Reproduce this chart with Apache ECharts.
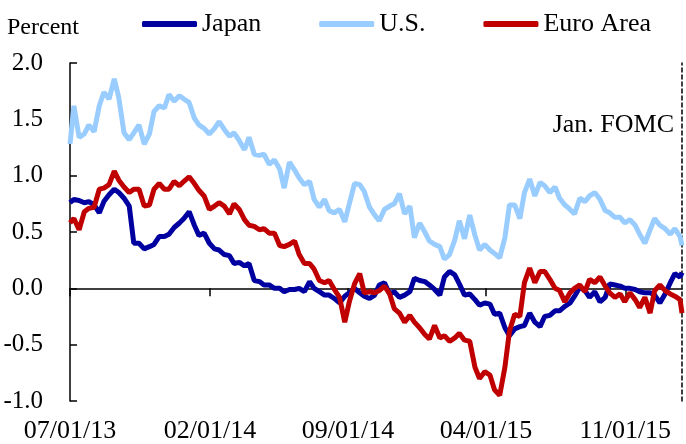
<!DOCTYPE html>
<html>
<head>
<meta charset="utf-8">
<script src="https://cdn.jsdelivr.net/npm/echarts@6/dist/echarts.min.js"></script>
<style>
  html, body { margin: 0; padding: 0; background: #fff; }
  #chart { width: 686px; height: 444px; }
</style>
</head>
<body>
<div id="chart"></div>
<script>
// observation dates (roughly weekly) up to the Jan. FOMC
const dates = [
  '2013-07-01','2013-07-07','2013-07-15','2013-07-23','2013-07-30','2013-08-07','2013-08-15','2013-08-22','2013-08-30','2013-09-07','2013-09-14','2013-09-22','2013-09-30',
  '2013-10-07','2013-10-15','2013-10-23','2013-10-31','2013-11-07','2013-11-15','2013-11-23','2013-11-30','2013-12-08','2013-12-16','2013-12-23','2013-12-31','2014-01-08',
  '2014-01-15','2014-01-23','2014-01-31','2014-02-08','2014-02-15','2014-02-23','2014-03-03','2014-03-10','2014-03-18','2014-03-26','2014-04-02','2014-04-10','2014-04-18',
  '2014-04-25','2014-05-03','2014-05-11','2014-05-19','2014-05-26','2014-06-03','2014-06-11','2014-06-18','2014-06-26','2014-07-04','2014-07-11','2014-07-19','2014-07-27',
  '2014-08-03','2014-08-11','2014-08-19','2014-08-27','2014-09-03','2014-09-11','2014-09-19','2014-09-26','2014-10-04','2014-10-12','2014-10-19','2014-10-27','2014-11-04',
  '2014-11-11','2014-11-19','2014-11-27','2014-12-05','2014-12-12','2014-12-20','2014-12-28','2015-01-04','2015-01-12','2015-01-20','2015-01-27','2015-02-04','2015-02-12',
  '2015-02-19','2015-02-27','2015-03-07','2015-03-15','2015-03-22','2015-03-30','2015-04-07','2015-04-14','2015-04-22','2015-04-30','2015-05-07','2015-05-15','2015-05-23',
  '2015-05-30','2015-06-07','2015-06-15','2015-06-23','2015-06-30','2015-07-08','2015-07-16','2015-07-23','2015-07-31','2015-08-08','2015-08-15','2015-08-23','2015-08-31',
  '2015-09-07','2015-09-15','2015-09-23','2015-10-01','2015-10-08','2015-10-16','2015-10-24','2015-10-31','2015-11-08','2015-11-16','2015-11-23','2015-12-01','2015-12-09',
  '2015-12-16','2015-12-24','2016-01-01','2016-01-09','2016-01-16','2016-01-24','2016-01-27'
]

const japan = [
  0.76,0.79,0.78,0.76,0.77,0.74,0.67,0.77,0.83,0.88,0.85,0.80,0.73,0.40,0.40,0.35,0.37,0.39,0.46,0.46,0.48,0.54,0.58,0.62,0.68,0.56,0.47,0.49,0.40,0.35,0.34,
  0.30,0.29,0.22,0.23,0.20,0.22,0.07,0.06,0.03,0.03,0.00,0.00,-0.03,-0.01,-0.01,0.00,-0.03,0.06,0.00,-0.03,-0.06,-0.06,-0.09,-0.13,-0.07,-0.04,0.00,-0.04,-0.07,-0.09,
  -0.06,0.03,0.05,-0.05,-0.03,-0.08,-0.06,-0.03,0.09,0.07,0.06,0.03,-0.01,-0.06,0.10,0.15,0.12,0.04,-0.06,-0.05,-0.10,-0.15,-0.13,-0.14,-0.23,-0.22,-0.35,-0.42,-0.36,-0.34,-0.33,
  -0.22,-0.30,-0.34,-0.25,-0.24,-0.20,-0.20,-0.16,-0.13,-0.07,0.01,-0.02,-0.08,-0.03,-0.12,-0.08,0.04,0.03,0.02,0.00,0.00,-0.01,-0.03,-0.04,-0.04,-0.06,-0.13,-0.05,0.05,0.13,0.10,
  0.14
]

const us = [
  1.28,1.62,1.34,1.37,1.45,1.39,1.62,1.74,1.68,1.86,1.69,1.38,1.32,1.38,1.45,1.28,1.37,1.57,1.62,1.60,1.72,1.66,1.71,1.68,1.65,1.51,1.45,1.42,1.37,1.42,1.48,
  1.41,1.35,1.38,1.31,1.23,1.34,1.19,1.18,1.19,1.10,1.14,1.06,0.89,1.12,1.05,0.98,0.92,0.95,0.79,0.72,0.79,0.69,0.67,0.70,0.59,0.75,0.93,0.92,0.86,0.72,
  0.65,0.60,0.70,0.73,0.75,0.84,0.66,0.73,0.45,0.58,0.50,0.42,0.39,0.37,0.26,0.30,0.43,0.60,0.44,0.65,0.47,0.34,0.39,0.34,0.31,0.27,0.45,0.74,0.74,0.62,0.85,
  0.97,0.82,0.94,0.91,0.85,0.90,0.80,0.74,0.70,0.66,0.80,0.77,0.82,0.85,0.79,0.69,0.67,0.63,0.63,0.58,0.61,0.56,0.48,0.40,0.52,0.62,0.56,0.53,0.48,0.53,0.46,
  0.38
]

const euro = [
  0.58,0.62,0.52,0.68,0.71,0.72,0.88,0.89,0.92,1.04,0.96,0.90,0.85,0.88,0.88,0.73,0.74,0.88,0.93,0.88,0.88,0.95,0.91,0.95,0.99,0.93,0.87,0.82,0.70,0.73,0.76,
  0.73,0.66,0.75,0.70,0.61,0.56,0.55,0.52,0.53,0.49,0.49,0.38,0.37,0.39,0.42,0.30,0.22,0.22,0.17,0.07,0.05,0.07,-0.01,-0.08,-0.30,-0.12,0.04,0.13,-0.04,-0.03,
  -0.04,-0.02,0.02,-0.05,-0.18,-0.22,-0.30,-0.24,-0.30,-0.35,-0.41,-0.45,-0.33,-0.44,-0.42,-0.47,-0.44,-0.40,-0.46,-0.47,-0.70,-0.80,-0.74,-0.77,-0.90,-0.95,-0.70,-0.38,-0.23,-0.25,0.05,
  0.18,0.05,0.15,0.15,0.08,0.00,-0.02,-0.12,-0.04,0.00,0.03,-0.03,0.08,0.05,0.10,0.02,-0.04,-0.08,-0.05,-0.12,-0.04,-0.10,-0.17,-0.08,-0.22,-0.02,0.03,-0.02,-0.05,-0.07,-0.10,
  -0.22
]

const xTickDates = ['2013-07-01', '2014-02-01', '2014-09-01', '2015-04-01', '2015-11-01']
const xTickLabels = ['07/01/13', '02/01/14', '09/01/14', '04/01/15', '11/01/15']
const fomcDate = '2016-01-27'

const font = "'Liberation Serif', 'Times New Roman', serif"
const toTime = (d) => echarts.number.parseDate(d).getTime()
const tickTimes = xTickDates.map(toTime)
const xMin = toTime(dates[0])
const xMax = toTime(fomcDate)
const toPairs = (vals) => dates.map((d, i) => [toTime(d), vals[i]])

const chart = echarts.init(document.getElementById('chart'))
chart.setOption({
  animation: false,
  textStyle: { fontFamily: font, color: '#000' },
  title: [
    { text: 'Percent', left: 7, top: 16, padding: 0, textStyle: { fontFamily: font, fontSize: 24, fontWeight: 'normal', color: '#000' } },
    { text: 'Jan. FOMC', right: 12, top: 112, padding: 0, textStyle: { fontFamily: font, fontSize: 26, fontWeight: 'normal', color: '#000' } }
  ],
  legend: {
    left: 142,
    top: 11,
    padding: 0,
    itemGap: 58,
    itemWidth: 55,
    itemHeight: 6,
    icon: 'roundRect',
    textStyle: { fontFamily: font, fontSize: 26, color: '#000' },
    data: ['Japan', 'U.S.', 'Euro Area']
  },
  grid: { left: 70, right: 4, top: 63, bottom: 43, containLabel: false },
  xAxis: [
    {
      type: 'value',
      min: xMin,
      max: xMax,
      position: 'bottom',
      axisLine: { show: false, onZero: false },
      axisTick: { show: false },
      splitLine: { show: false },
      axisLabel: {
        customValues: tickTimes,
        margin: 17,
        fontFamily: font,
        fontSize: 26,
        color: '#000',
        formatter: (v) => xTickLabels[tickTimes.indexOf(v)] ?? ''
      }
    },
    {
      type: 'value',
      min: xMin,
      max: xMax,
      position: 'bottom',
      axisLine: { show: true, onZero: true, lineStyle: { color: '#000', width: 1.5 } },
      axisTick: { show: true, customValues: tickTimes, length: 8, lineStyle: { color: '#000', width: 1.5 } },
      axisLabel: { show: false },
      splitLine: { show: false }
    }
  ],
  yAxis: [
    {
      type: 'value',
      min: -1,
      max: 2,
      interval: 0.5,
      axisLine: { show: true, lineStyle: { color: '#000', width: 1.5 } },
      axisTick: { show: true, inside: true, length: 7, lineStyle: { color: '#000', width: 1.5 } },
      splitLine: { show: false },
      axisLabel: { margin: 27, fontFamily: font, fontSize: 25, color: '#000', formatter: (v) => v.toFixed(1) }
    },
    {
      // dashed marker of the Jan. FOMC at the right edge
      type: 'value',
      min: -1,
      max: 2,
      position: 'right',
      axisLine: { show: true, lineStyle: { color: '#000', width: 1.5, type: [4, 3] } },
      axisTick: { show: false },
      axisLabel: { show: false },
      splitLine: { show: false }
    }
  ],
  series: [
    { name: 'Japan', type: 'line', data: toPairs(japan), showSymbol: false, symbol: 'none', color: '#0000A0', lineStyle: { width: 5 } },
    { name: 'U.S.', type: 'line', data: toPairs(us), showSymbol: false, symbol: 'none', color: '#99CCFF', lineStyle: { width: 5 } },
    { name: 'Euro Area', type: 'line', data: toPairs(euro), showSymbol: false, symbol: 'none', color: '#C00000', lineStyle: { width: 5 } }
  ]
})
window.addEventListener('resize', () => chart.resize())
</script>
</body>
</html>
